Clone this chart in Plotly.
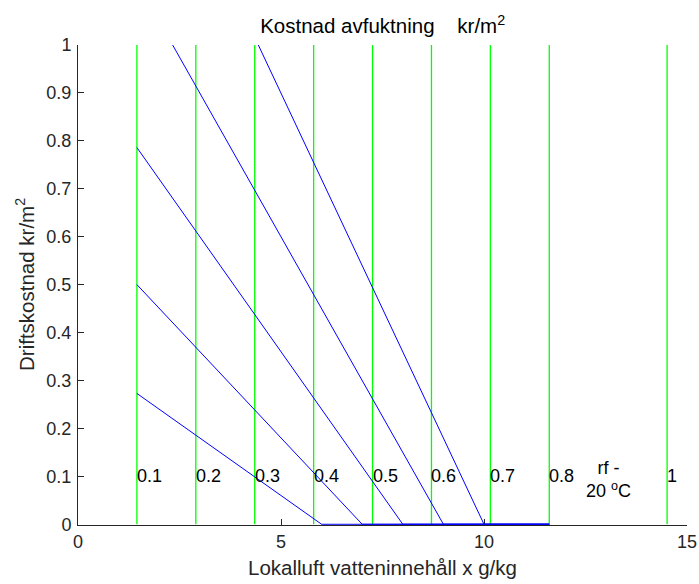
import plotly.graph_objects as go

# Data
rf_x = [1.451, 2.902, 4.353, 5.804, 7.255, 8.706, 10.157, 11.608, 13.059, 14.51]
rf_labels = ["0.1", "0.2", "0.3", "0.4", "0.5", "0.6", "0.7", "0.8", "rf -<br>20 <sup>o</sup>C", "1"]
green_x = [1.451, 2.902, 4.353, 5.804, 7.255, 8.706, 10.157, 11.608, 14.51]

cost_x = [
    [1.451, 6.0, 11.608],
    [1.451, 7.0, 11.608],
    [1.451, 8.0, 11.608],
    [1.451, 9.0, 11.608],
    [1.451, 10.0, 11.608],
]
cost_y = [
    [0.273, 0.0, 0.0],
    [0.500, 0.0, 0.0],
    [0.786, 0.0, 0.0],
    [1.132, 0.0, 0.0],
    [1.538, 0.0, 0.0],
]

x_ticks = [0, 5, 10, 15]
y_ticks = [0, 0.1, 0.2, 0.3, 0.4, 0.5, 0.6, 0.7, 0.8, 0.9, 1]
y_ticklabels = ["0", "0.1", "0.2", "0.3", "0.4", "0.5", "0.6", "0.7", "0.8", "0.9", "1"]

FONT = "Liberation Sans, Arial, sans-serif"
AXC = "#262626"

fig = go.Figure()

for gx in green_x:
    fig.add_trace(go.Scatter(x=[gx, gx], y=[0, 1], mode="lines",
                             line=dict(color="#00FF00", width=1.3),
                             showlegend=False, hoverinfo="skip"))

for xs, ys in zip(cost_x, cost_y):
    fig.add_trace(go.Scatter(x=xs, y=ys, mode="lines",
                             line=dict(color="#0000FF", width=1),
                             showlegend=False, hoverinfo="skip"))

for xv, lab in zip(rf_x, rf_labels):
    multi = "<br>" in lab
    fig.add_annotation(x=xv, y=0.1 if not multi else 0.094, xref="x", yref="y", text=lab,
                       showarrow=False, xanchor="center" if multi else "left",
                       yanchor="middle", align="center", xshift=-2 if not multi else 0,
                       font=dict(family=FONT, size=18, color="#000000"))

fig.add_annotation(x=0, y=0.5, xref="paper", yref="paper", xshift=-53,
                   text="Driftskostnad kr/m<sup>2</sup>", textangle=-90,
                   showarrow=False, xanchor="center", yanchor="middle",
                   font=dict(family=FONT, size=20.5, color=AXC))

fig.update_layout(
    width=699, height=584,
    paper_bgcolor="white", plot_bgcolor="white",
    margin=dict(l=78, r=12, t=45, b=59, autoexpand=False),
    font=dict(family=FONT, size=18, color=AXC),
    title=dict(text="Kostnad avfuktning    kr/m<sup>2</sup>", x=0.5475, xanchor="center",
               y=0.955, yanchor="middle", font=dict(family=FONT, size=20.5, color="#000000")),
    xaxis=dict(range=[0, 15], tickvals=x_ticks, ticktext=[str(t) for t in x_ticks],
               showgrid=False, zeroline=False, showline=True, linecolor=AXC, linewidth=1,
               ticks="inside", ticklen=6, tickcolor=AXC, layer="below traces", automargin=False,
               title=dict(text="Lokalluft vatteninnehåll x g/kg", standoff=10,
                          font=dict(family=FONT, size=20.5, color=AXC))),
    yaxis=dict(range=[-0.0015, 1], tickvals=y_ticks, ticktext=y_ticklabels,
               showgrid=False, zeroline=False, showline=True, linecolor=AXC, linewidth=1,
               ticks="inside", ticklen=6, tickcolor=AXC, layer="below traces", automargin=False,
               ticklabelstandoff=2),
)

fig.write_html("out.html")
